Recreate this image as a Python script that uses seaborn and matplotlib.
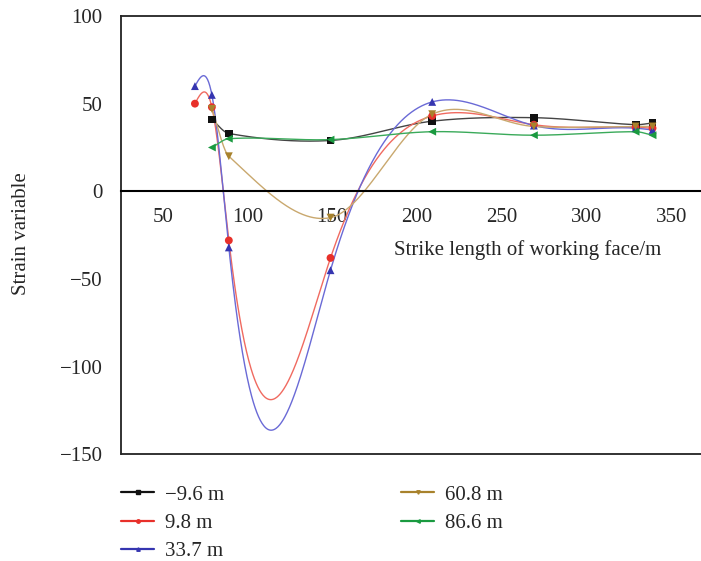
import numpy as np
import pandas as pd
import matplotlib
matplotlib.use("Agg")
import matplotlib.pyplot as plt
from matplotlib.lines import Line2D
import seaborn as sns

# Measuring positions along the strike (m)
strike = [69, 79, 89, 149, 209, 269, 329, 339]

# Strain readings for each survey line depth
labels = ["\u22129.6 m", "9.8 m", "33.7 m", "60.8 m", "86.6 m"]
s_m96 = [None, 41, 33, 29, 40, 42, 38, 39]
s_98 = [50, 48, -28, -38, 43, 38, 36.5, 36]
s_337 = [60, 55, -32, -45, 51, 37.5, 36, 35]
s_608 = [None, 47, 20, -15, 44, 37, 37, 37]
s_866 = [None, 25, 30, 29.5, 34, 32, 34, 32]
series = [s_m96, s_98, s_337, s_608, s_866]

# Curve type used to join the points of each series
smoothing = ["hermite", "spline", "spline", "hermite", "hermite"]

marker_colors = ["#111111", "#e8302a", "#3535b0", "#a8822c", "#1a9a40"]
line_colors = ["#444444", "#f06a60", "#6a6ad6", "#c9a86e", "#3aaa5a"]
markers = ["s", "o", "^", "v", "<"]


def natural_spline(x, y, xs):
    x = np.asarray(x, float)
    y = np.asarray(y, float)
    n = len(x)
    h = np.diff(x)
    A = np.zeros((n, n))
    b = np.zeros(n)
    A[0, 0] = A[-1, -1] = 1.0
    for i in range(1, n - 1):
        A[i, i - 1] = h[i - 1]
        A[i, i] = 2 * (h[i - 1] + h[i])
        A[i, i + 1] = h[i]
        b[i] = 6 * ((y[i + 1] - y[i]) / h[i] - (y[i] - y[i - 1]) / h[i - 1])
    M = np.linalg.solve(A, b)
    idx = np.clip(np.searchsorted(x, xs) - 1, 0, n - 2)
    x0, x1 = x[idx], x[idx + 1]
    hh = x1 - x0
    a0, a1 = x1 - xs, xs - x0
    return (M[idx] * a0 ** 3 / (6 * hh) + M[idx + 1] * a1 ** 3 / (6 * hh)
            + (y[idx] / hh - M[idx] * hh / 6) * a0
            + (y[idx + 1] / hh - M[idx + 1] * hh / 6) * a1)


def hermite(x, y, xs):
    # cubic Hermite with centred finite-difference tangents
    x = np.asarray(x, float)
    y = np.asarray(y, float)
    n = len(x)
    m = np.empty(n)
    m[0] = (y[1] - y[0]) / (x[1] - x[0])
    m[-1] = (y[-1] - y[-2]) / (x[-1] - x[-2])
    m[1:-1] = (y[2:] - y[:-2]) / (x[2:] - x[:-2])
    idx = np.clip(np.searchsorted(x, xs) - 1, 0, n - 2)
    h = x[idx + 1] - x[idx]
    s = (xs - x[idx]) / h
    h00 = 2 * s ** 3 - 3 * s ** 2 + 1
    h10 = s ** 3 - 2 * s ** 2 + s
    h01 = -2 * s ** 3 + 3 * s ** 2
    h11 = s ** 3 - s ** 2
    return h00 * y[idx] + h10 * h * m[idx] + h01 * y[idx + 1] + h11 * h * m[idx + 1]


pts, curves = [], []
for lab, vals, kind in zip(labels, series, smoothing):
    xs = [x for x, v in zip(strike, vals) if v is not None]
    ys = [v for v in vals if v is not None]
    for x, v in zip(xs, ys):
        pts.append({"x": x, "y": v, "depth": lab})
    fine = np.linspace(xs[0], xs[-1], 800)
    fy = natural_spline(xs, ys, fine) if kind == "spline" else hermite(xs, ys, fine)
    for x, v in zip(fine, fy):
        curves.append({"x": x, "y": v, "depth": lab})
pts = pd.DataFrame(pts)
curves = pd.DataFrame(curves)

sns.set_style("white")
plt.rcParams["font.family"] = ["Liberation Serif", "DejaVu Serif"]
FS = 15

fig = plt.figure(figsize=(7.01, 5.61), dpi=100)
ax = fig.add_axes([120.7 / 701, 1 - 454.3 / 561, 1 - 120.7 / 701, (454.3 - 16) / 561])

sns.lineplot(data=curves, x="x", y="y", hue="depth", hue_order=labels,
             palette=line_colors, sort=False, estimator=None, lw=1.0,
             legend=False, ax=ax)
sns.scatterplot(data=pts, x="x", y="y", hue="depth", style="depth",
                hue_order=labels, style_order=labels, palette=marker_colors,
                markers=markers, s=32, edgecolor="none", legend=False,
                ax=ax, zorder=5)

ax.set_xlim(25.2, 367.6)
ax.set_ylim(-150, 100)
ax.set_xticks([50, 100, 150, 200, 250, 300, 350])
ax.set_yticks([-150, -100, -50, 0, 50, 100])
ax.set_yticklabels(["\u2212150", "\u2212100", "\u221250", "0", "50", "100"])

for side in ["left", "top", "bottom"]:
    ax.spines[side].set_visible(True)
    ax.spines[side].set_color("#222222")
    ax.spines[side].set_linewidth(1.3)
ax.spines["right"].set_visible(False)
ax.spines["bottom"].set_position(("data", 0))
ax.spines["bottom"].set_color("black")
ax.spines["bottom"].set_linewidth(1.5)
ax.axhline(-150, color="#222222", lw=1.3, clip_on=False, zorder=6)

ax.tick_params(axis="both", direction="out", length=7, width=1.5,
               color="black", labelsize=FS, pad=6)
ax.tick_params(axis="x", pad=5)
ax.set_xlabel("")
ax.set_ylabel("")
fig.text(22 / 701, 1 - 234 / 561, "Strain variable", rotation=90,
         ha="center", va="center", fontsize=FS)
ax.text(0.701, 0.467, "Strike length of working face/m", transform=ax.transAxes,
        ha="center", va="center", fontsize=FS)

handles = [Line2D([], [], color=c, marker=m, markersize=2.5, lw=1.6)
           for c, m in zip(marker_colors, markers)]
leg_kw = dict(frameon=False, fontsize=FS, handlelength=1.6, handletextpad=0.5,
              labelspacing=0.42, borderaxespad=0, borderpad=0)
leg1 = fig.legend(handles[:3], labels[:3], loc="upper left",
                  bbox_to_anchor=(121 / 701, 1 - 485 / 561), **leg_kw)
leg2 = fig.legend(handles[3:], labels[3:], loc="upper left",
                  bbox_to_anchor=(401 / 701, 1 - 485 / 561), **leg_kw)

fig.savefig("out.png", dpi=100)
